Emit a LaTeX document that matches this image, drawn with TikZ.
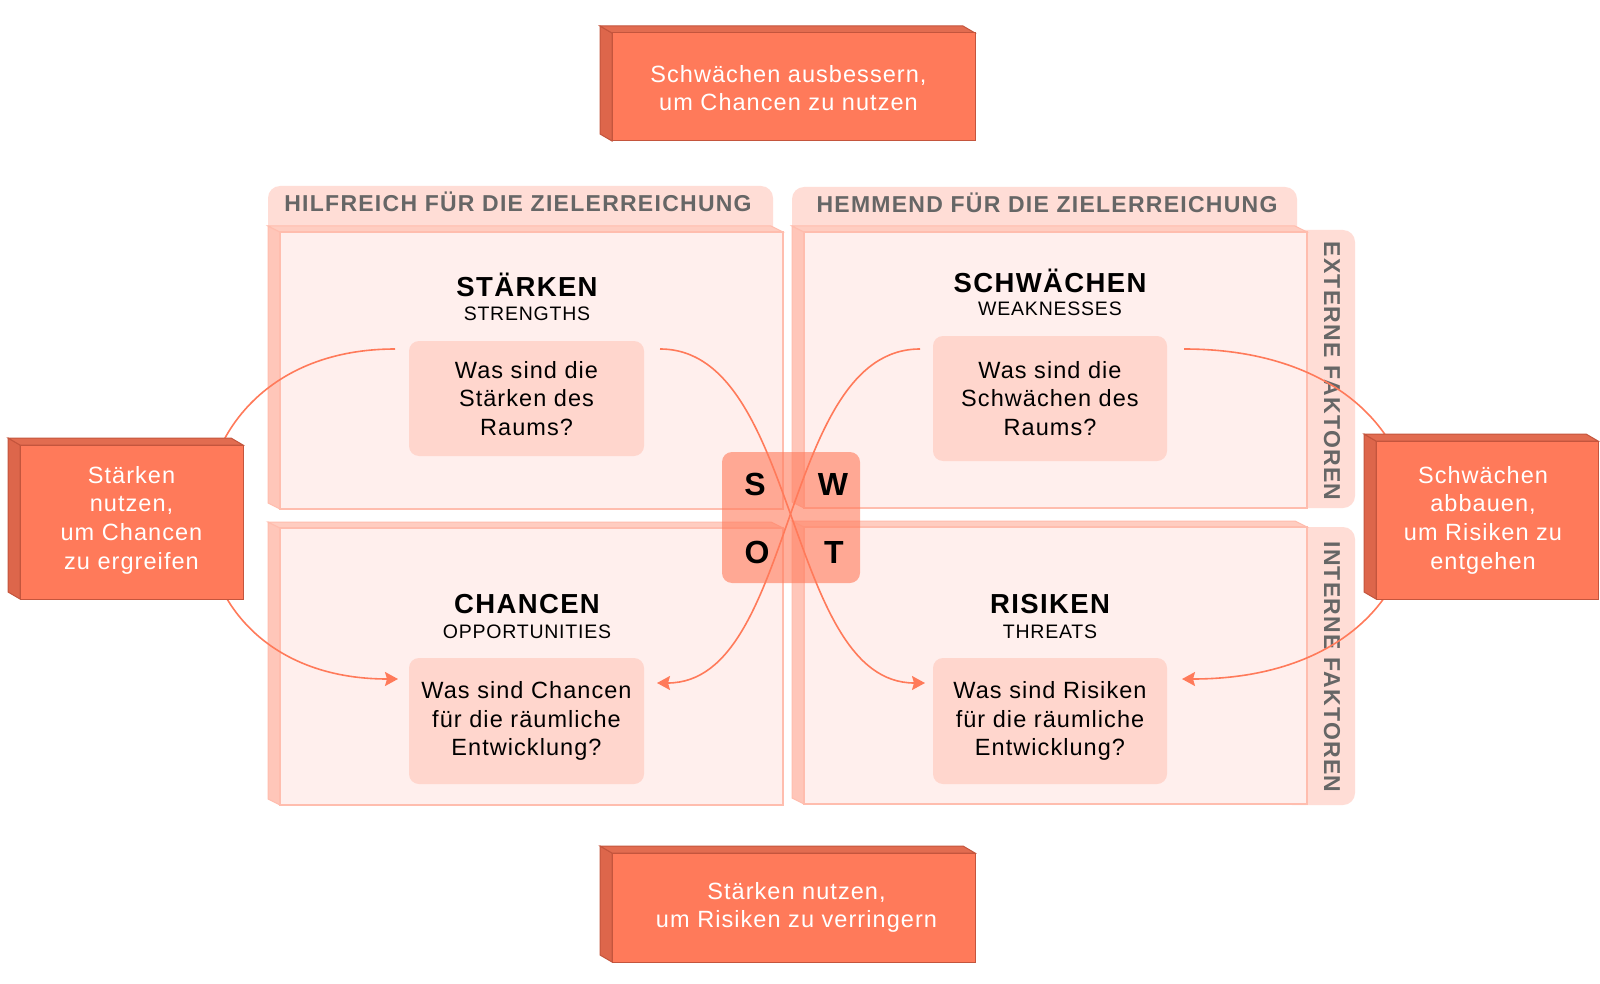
\documentclass[tikz,border=0pt]{standalone}
\usepackage{fontspec}
\setmainfont{Liberation Sans}[LetterSpace=4]
\usetikzlibrary{arrows.meta}
\definecolor{coral}{HTML}{FF7A5A}
\definecolor{coraldark}{HTML}{DD664B}
\definecolor{coraltop}{HTML}{E26C50}
\definecolor{coraledge}{HTML}{C4553D}
\definecolor{quadfill}{HTML}{FFEFED}
\definecolor{quadedge}{HTML}{FFBDAE}
\definecolor{quadbevel}{HTML}{FFC6B9}
\definecolor{quadbeveltop}{HTML}{FFCDC1}
\definecolor{tabfill}{HTML}{FFDDD6}
\definecolor{innerfill}{HTML}{FFD6CD}
\definecolor{tabtext}{HTML}{666666}
\tikzset{
  redface/.style={fill=coral, draw=coraledge, line width=1pt, inner sep=0pt, outer sep=0pt},
  redtext/.style={text=white, align=center, inner sep=0pt, font=\fontsize{23.5}{28.7}\selectfont\addfontfeatures{LetterSpace=4.5}},
  quadface/.style={fill=quadfill, draw=quadedge, line width=2pt, inner sep=0pt, outer sep=0pt},
  innerbox/.style={fill=innerfill, rounded corners=10pt, inner sep=0pt, align=center, font=\fontsize{23.5}{28.7}\selectfont\addfontfeatures{LetterSpace=4.5}},
  titletext/.style={anchor=base, font=\fontsize{27.5}{30}\selectfont\bfseries\addfontfeatures{LetterSpace=5}},
  subtext/.style={anchor=base, font=\fontsize{19.5}{22}\selectfont},
  tabtextstyle/.style={anchor=base, text=tabtext, font=\fontsize{23}{26}\selectfont\bfseries\addfontfeatures{LetterSpace=5.5}},
  sidetext/.style={text=tabtext, rotate=-90, font=\fontsize{23}{26}\selectfont\bfseries\addfontfeatures{LetterSpace=5.5}},
  letter/.style={anchor=base, font=\fontsize{32}{34}\selectfont\bfseries},
  conn/.style={draw=coral, line width=1.6pt, -{Stealth[length=13pt,width=14pt,inset=2pt]}},
}
% name, x1, y1, x2, y2, text, text x-offset, text y-offset
\newcommand\redblock[8]{%
  \filldraw[fill=coraldark, draw=coraledge, line width=1pt] (#2,#3) -- (#2-12,#3-7) -- (#2-12,#5-7) -- (#2,#5) -- cycle;
  \filldraw[fill=coraltop, draw=coraledge, line width=1pt] (#2,#3) -- (#2-12,#3-7) -- (#4-12,#3-7) -- (#4,#3) -- cycle;
  \node[redface, minimum width={(#4-#2)*1pt}, minimum height={(#5-#3)*1pt}] (#1) at ({(#2+#4)/2},{(#3+#5)/2}) {};
  \node[redtext] (#1text) at ({(#2+#4)/2+#7},{(#3+#5)/2+#8}) {#6};
}
\newcommand\quadblock[5]{%
  \filldraw[fill=quadbevel, draw=quadedge, line width=1pt] (#2,#3) -- (#2-12,#3-6) -- (#2-12,#5-6) -- (#2,#5) -- cycle;
  \filldraw[fill=quadbeveltop, draw=quadedge, line width=1pt] (#2,#3) -- (#2-12,#3-6) -- (#4-12,#3-6) -- (#4,#3) -- cycle;
  \node[quadface, minimum width={(#4-#2)*1pt}, minimum height={(#5-#3)*1pt}] (#1) at ({(#2+#4)/2},{(#3+#5)/2}) {};
}
\begin{document}
\begin{tikzpicture}[x=1pt, y=-1pt]
\useasboundingbox (0,0) rectangle (1600,984);
\fill[white] (0,0) rectangle (1600,984);
% tabs
\fill[tabfill, rounded corners=12pt] (268,186) rectangle (773,260);
\fill[tabfill, rounded corners=12pt] (792,187) rectangle (1297,260);
\fill[tabfill, rounded corners=12pt] (1280,230) rectangle (1355,508);
\fill[tabfill, rounded corners=12pt] (1280,527) rectangle (1355,805);
% quadrants
\quadblock{qS}{280}{232}{783}{509}
\quadblock{qW}{804}{232}{1307}{508}
\quadblock{qO}{280}{528}{783}{805}
\quadblock{qT}{804}{527}{1307}{804}
% tab texts
\node[tabtextstyle] (tabL) at (518,212) {HILFREICH FÜR DIE ZIELERREICHUNG};
\node[tabtextstyle] (tabR) at (1047,213) {HEMMEND FÜR DIE ZIELERREICHUNG};
\node[sidetext] (sideE) at (1332,371) {EXTERNE FAKTOREN};
\node[sidetext] (sideI) at (1332,667) {INTERNE FAKTOREN};
% titles
\node[titletext] (tS) at (527,296) {STÄRKEN};
\node[subtext] (sS) at (527,320) {STRENGTHS};
\node[titletext] (tW) at (1050,292) {SCHWÄCHEN};
\node[subtext] (sW) at (1050,315) {WEAKNESSES};
\node[titletext] (tO) at (527,613) {CHANCEN};
\node[subtext] (sO) at (527,638) {OPPORTUNITIES};
\node[titletext] (tT) at (1050,613) {RISIKEN};
\node[subtext] (sT) at (1050,638) {THREATS};
% inner boxes
\node[innerbox, minimum width=235pt, minimum height=115pt] (iS) at (526.5,398.5) {Was sind die\\Stärken des\\Raums?};
\node[innerbox, minimum width=234pt, minimum height=125pt] (iW) at (1050,398.5) {Was sind die\\Schwächen des\\Raums?};
\node[innerbox, minimum width=235pt, minimum height=126pt] (iO) at (526.5,721) {Was sind Chancen\\für die räumliche\\Entwicklung?};
\node[innerbox, minimum width=234pt, minimum height=126pt] (iT) at (1050,721) {Was sind Risiken\\für die räumliche\\Entwicklung?};
% SWOT centre
\node[fill=coral, fill opacity=0.6, rounded corners=10pt, minimum width=138pt, minimum height=131pt, inner sep=0pt] (swot) at (791,517.5) {};
\node[letter] (lS) at (755,495) {S};
\node[letter] (lW) at (833,495) {W};
\node[letter] (lO) at (757,563) {O};
\node[letter] (lT) at (834,563) {T};
% connectors
\coordinate (a1) at (395,349);
\coordinate (a2) at (398,679);
\coordinate (b1) at (660,349);
\coordinate (b2) at (925,683);
\coordinate (c1) at (920,349);
\coordinate (c2) at (657,683);
\coordinate (d1) at (1184,349);
\coordinate (d2) at (1182,679);
\draw[conn] (a1) .. controls (145,349) and (140,679) .. (a2);
\draw[conn] (b1) .. controls (800,349) and (785,683) .. (b2);
\draw[conn] (c1) .. controls (780,349) and (797,683) .. (c2);
\draw[conn] (d1) .. controls (1485,349) and (1485,679) .. (d2);
% red blocks
\redblock{rTop}{612}{33}{975}{141}{Schwächen ausbessern,\\um Chancen zu nutzen}{-5}{1}
\redblock{rLeft}{20}{445}{243}{599}{Stärken\\nutzen,\\um Chancen\\zu ergreifen}{0}{-2}
\redblock{rRight}{1376}{441}{1598}{599}{Schwächen\\abbauen,\\um Risiken zu\\entgehen}{-4}{0}
\redblock{rBottom}{612}{853}{975}{962}{Stärken nutzen,\\um Risiken zu verringern}{3}{0}
\end{tikzpicture}
\end{document}
